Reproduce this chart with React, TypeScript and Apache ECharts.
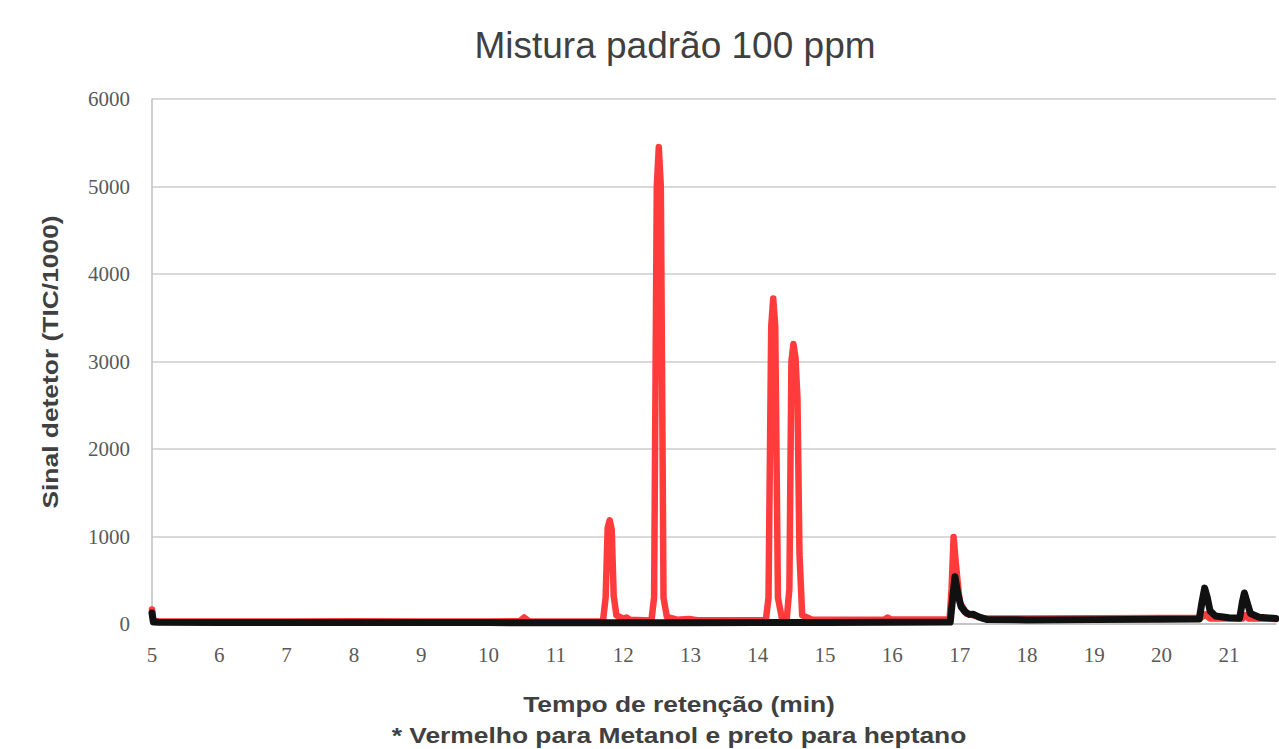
import React, { useEffect, useRef } from "react";
import * as echarts from "echarts";

const chartTitle = "Mistura padrão 100 ppm";
const yAxisTitle = "Sinal detetor (TIC/1000)";
const xAxisTitle = "Tempo de retenção (min)";
const noteText = "* Vermelho para Metanol e preto para heptano";

const xMin = 5;
const xMax = 21.7;
const yTicks = [0, 1000, 2000, 3000, 4000, 5000, 6000];

// Metanol (red): [retention time (min), signal (TIC/1000)]
const metanol: [number, number][] = [
  [5.0, 165], [5.02, 40], [5.1, 32], [6, 30], [7, 30], [8, 32], [9, 30], [10, 30],
  [10.46, 32], [10.53, 75], [10.6, 32], [11, 30], [11.7, 32],
  [11.74, 300], [11.77, 1100], [11.8, 1185], [11.83, 1080], [11.86, 320], [11.9, 100],
  [12.0, 60], [12.05, 75], [12.1, 50], [12.42, 40],
  [12.46, 300], [12.5, 5000], [12.53, 5450], [12.56, 5000], [12.6, 300], [12.65, 80],
  [12.8, 50], [12.98, 58], [13.1, 42], [14.12, 42],
  [14.16, 300], [14.2, 3400], [14.23, 3720], [14.26, 3400], [14.3, 300], [14.36, 60],
  [14.43, 55], [14.47, 400], [14.5, 3000], [14.53, 3200], [14.56, 3050], [14.59, 2580],
  [14.62, 800], [14.66, 100], [14.8, 52], [15.5, 50], [15.88, 52], [15.93, 75], [15.98, 52],
  [16.85, 52], [16.88, 400], [16.91, 995], [16.94, 720], [17.0, 250], [17.1, 120],
  [17.2, 100], [17.25, 92], [17.35, 62], [18, 62], [19, 66], [20, 70], [20.58, 70],
  [20.65, 110], [20.72, 62], [21.2, 62], [21.25, 100], [21.3, 62], [21.7, 58],
];

// Heptano (black)
const heptano: [number, number][] = [
  [5.0, 125], [5.02, 22], [5.1, 20], [6, 18], [7, 18], [8, 17], [9, 16], [10, 16],
  [11, 15], [12, 15], [13, 15], [14, 16], [15, 18], [16, 20], [16.86, 22],
  [16.89, 250], [16.93, 540], [16.97, 360], [17.02, 200], [17.08, 140], [17.14, 110],
  [17.2, 112], [17.28, 82], [17.4, 52], [18, 46], [19, 50], [20, 55], [20.56, 58],
  [20.6, 250], [20.64, 410], [20.68, 300], [20.72, 150], [20.8, 92], [21.0, 72],
  [21.16, 66], [21.2, 250], [21.23, 355], [21.27, 250], [21.32, 120], [21.45, 78], [21.7, 62],
];

export default function App() {
  const ref = useRef<HTMLDivElement>(null);
  useEffect(() => {
    document.body.style.margin = "0";
    if (!ref.current) return;
    const chart = echarts.init(ref.current, undefined, { renderer: "svg" });
    const sans = "Liberation Sans, Arial, sans-serif";
    const serif = "Liberation Serif, Times New Roman, serif";
    chart.setOption({
      animation: false,
      backgroundColor: "#ffffff",
      grid: { left: 152, right: 0, top: 99, bottom: 125, containLabel: false },
      xAxis: {
        type: "value",
        min: xMin,
        max: xMax,
        interval: 1,
        axisLine: { show: true, lineStyle: { color: "#bfbfbf", width: 1.5 } },
        axisTick: { show: false },
        splitLine: { show: false },
        axisLabel: {
          margin: 20,
          fontFamily: serif,
          fontSize: 21,
          color: "#595959",
          formatter: (v: number) => (Number.isInteger(v) ? String(v) : ""),
        },
      },
      yAxis: {
        type: "value",
        min: yTicks[0],
        max: yTicks[yTicks.length - 1],
        interval: 1000,
        axisLine: { show: true, lineStyle: { color: "#bfbfbf", width: 1.5 } },
        axisTick: { show: false },
        splitLine: { show: true, lineStyle: { color: "#d9d9d9", width: 2 } },
        axisLabel: {
          margin: 22,
          fontFamily: serif,
          fontSize: 21,
          color: "#595959",
          formatter: (v: number) => String(v),
        },
      },
      series: [
        {
          name: "Metanol",
          type: "line",
          data: metanol,
          showSymbol: false,
          smooth: false,
          lineStyle: { color: "#ff3b3b", width: 6.5, join: "round", cap: "round" },
          z: 2,
        },
        {
          name: "Heptano",
          type: "line",
          data: heptano,
          showSymbol: false,
          smooth: false,
          lineStyle: { color: "#111111", width: 7, join: "round", cap: "round" },
          z: 3,
        },
      ],
      graphic: [
        {
          type: "text",
          x: 675,
          y: 45,
          style: {
            text: chartTitle,
            font: `37px ${sans}`,
            fill: "#404040",
            textAlign: "center",
            textVerticalAlign: "middle",
          },
        },
        {
          type: "text",
          x: 50,
          y: 362,
          rotation: Math.PI / 2,
          scaleX: 1.2,
          style: {
            text: yAxisTitle,
            font: `bold 22px ${sans}`,
            fill: "#404040",
            textAlign: "center",
            textVerticalAlign: "middle",
          },
        },
        {
          type: "text",
          x: 679,
          y: 704,
          scaleX: 1.2,
          style: {
            text: xAxisTitle,
            font: `bold 22px ${sans}`,
            fill: "#404040",
            textAlign: "center",
            textVerticalAlign: "middle",
          },
        },
        {
          type: "text",
          x: 679,
          y: 735,
          scaleX: 1.2,
          style: {
            text: noteText,
            font: `bold 22px ${sans}`,
            fill: "#404040",
            textAlign: "center",
            textVerticalAlign: "middle",
          },
        },
      ],
    });
    return () => chart.dispose();
  }, []);
  return <div ref={ref} style={{ width: 1279, height: 749 }} />;
}
